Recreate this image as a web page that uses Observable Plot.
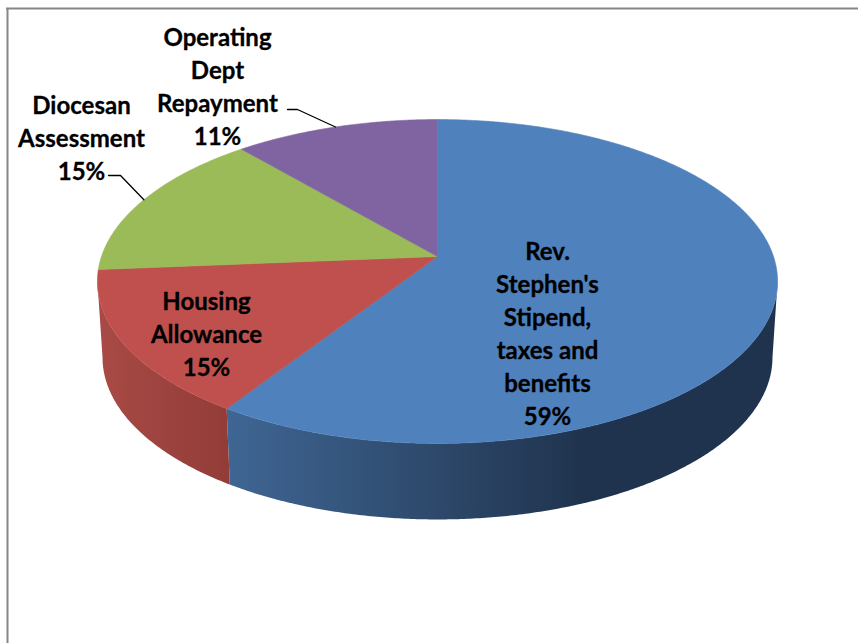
<!DOCTYPE html>
<html>
<head>
<meta charset="utf-8">
<style>html,body{margin:0;padding:0;background:#fff}svg{display:block}</style>
<script src="https://cdn.jsdelivr.net/npm/d3@7"></script>
<script src="https://cdn.jsdelivr.net/npm/@observablehq/plot@0.6"></script>
</head>
<body>
<div id="chart"></div>
<script>
const categories = ["Rev.\nStephen's\nStipend,\ntaxes and\nbenefits", "Housing\nAllowance", "Diocesan\nAssessment", "Operating\nDept\nRepayment"];
const shares = [59.2, 14.5, 15.0, 11.3];
const sliceColors = ["#4f81bd", "#c0504d", "#9bbb59", "#8064a2"];
const labelX = [547, 206, 81, 217];
const labelY = [331.5, 332, 136, 84];
const leaderFrom = [null, null, [108, 175], [287, 109]];
const leaderElbow = [null, null, [120, 175], [297, 109]];
const sideStops = [
  [[0, "#3f6694"], [0.45, "#2a4363"], [0.65, "#1f334e"], [1, "#1f334e"]],
  [[0, "#a94a46"], [1, "#923c38"]]
];

// Perspective view of the pie's circular top face
const cx = 437, cy = 256, A = 336, B = 158.1, k = 0.1543, depth = 76, shrink = 0.985;
const top_ = (t) => {
  const d = 1 + k * Math.cos(t);
  return [cx + (A * Math.sin(t)) / d, cy - (B * Math.cos(t)) / d];
};
const bottom_ = (t) => {
  const [x, y] = top_(t);
  return [cx + shrink * (x - cx), y + depth];
};
const arcs = d3.pie().sort(null)(shares);
const sample = (a0, a1) => {
  const n = Math.max(2, Math.ceil((a1 - a0) / 0.008));
  return d3.range(n + 1).map((i) => a0 + ((a1 - a0) * i) / n);
};
const faces = arcs.map((a) => [[cx, cy], ...sample(a.startAngle, a.endAngle).map(top_)]);
const limit = Math.acos(-k);
const sides = arcs.map((a) => {
  const a0 = Math.max(a.startAngle, limit), a1 = Math.min(a.endAngle, 2 * Math.PI - limit);
  if (a1 <= a0) return null;
  const ts = sample(a0, a1);
  return [...ts.map(top_), ...ts.slice().reverse().map(bottom_)];
});
const leaders = arcs.map((a, i) =>
  leaderFrom[i] ? [leaderFrom[i], leaderElbow[i], top_((a.startAngle + a.endAngle) / 2)] : null
);
const labelRows = categories.map((c, i) => ({
  text: c + "\n" + Math.round(shares[i]) + "%", x: labelX[i], y: labelY[i]
}));

const defs = () => {
  const d = d3.create("svg:defs");
  sideStops.forEach((stops, i) => {
    const g = d.append("linearGradient").attr("id", "side" + i).attr("x1", 0).attr("x2", 1).attr("y1", 0).attr("y2", 0);
    stops.forEach(([o, c]) => g.append("stop").attr("offset", o).attr("stop-color", c));
  });
  return d.node();
};
const poly = (pts, fill) => Plot.line([...pts, pts[0]], {x: (d) => d[0], y: (d) => d[1], fill, stroke: fill.startsWith("url") ? "none" : fill, strokeWidth: 0.6});

const chart = Plot.plot({
  width: 858,
  height: 643,
  margin: 0,
  style: {background: "#fff"},
  x: {domain: [0, 858], range: [0, 858], axis: null},
  y: {domain: [0, 643], range: [0, 643], axis: null},
  marks: [
    defs,
    ...sides.map((s, i) => (s ? poly(s, "url(#side" + i + ")") : null)),
    ...faces.map((f, i) => poly(f, sliceColors[i])),
    ...leaders.filter(Boolean).map((l) => Plot.line(l, {x: (d) => d[0], y: (d) => d[1], stroke: "#000", strokeWidth: 1.3})),
    Plot.text(labelRows, {x: "x", y: "y", text: "text", fontFamily: "Lato", fontWeight: 700, fontSize: 24, lineHeight: 1.375, fill: "#000", stroke: "#000", strokeWidth: 0.3, textAnchor: "middle", lineAnchor: "middle"}),
    Plot.ruleX([7], {y1: 8, y2: 643, stroke: "#868686", strokeWidth: 2}),
    Plot.ruleY([8], {x1: 6, x2: 858, stroke: "#868686", strokeWidth: 2})
  ]
});
document.getElementById("chart").appendChild(chart);
</script>
</body>
</html>
